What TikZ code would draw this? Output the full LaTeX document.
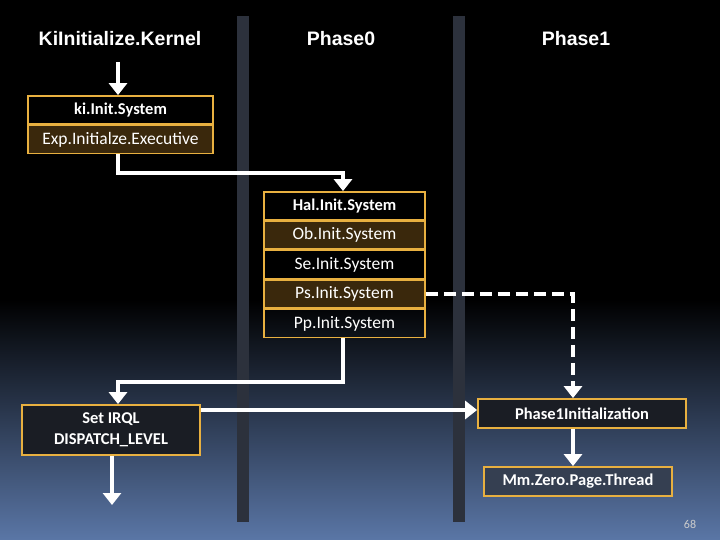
\documentclass[tikz,border=0pt]{standalone}
\usepackage{fontspec}
\setmainfont{Carlito}
\newfontfamily\titlefont{Liberation Sans}
\usetikzlibrary{arrows.meta}
\definecolor{bx}{HTML}{E8B040}
\definecolor{brn}{HTML}{3A280C}
\definecolor{barc}{HTML}{2C313C}
\definecolor{botc}{HTML}{5A76A6}
\begin{document}
\begin{tikzpicture}[x=1pt,y=-1pt,
  ttl/.style={text=white,font=\titlefont\bfseries\fontsize{19.5}{22}\selectfont},
  bxs/.style={draw=bx,line width=1.8pt,text=white,font=\fontsize{17.5}{19}\selectfont,minimum height=28pt,inner sep=0pt},
  bf/.style={font=\bfseries\fontsize{16.5}{19}\selectfont},
  fl/.style={fill=brn},
  arr/.style={draw=white,line width=3.5pt,-{Triangle[width=18pt,length=12pt]}},
  bar/.style={fill=barc}]
\useasboundingbox (0,0) rectangle (720,540);
\fill[black] (0,0) rectangle (720,300);
\shade[top color=black,bottom color=botc] (0,299) rectangle (720,540);
\fill[bar] (237,16) rectangle (249,522);
\fill[bar] (453,16) rectangle (465,522);
\node[ttl] (t1) at (120,39) {KiInitialize.Kernel};
\node[ttl] (t2) at (341,39) {Phase0};
\node[ttl] (t3) at (576,39) {Phase1};
\node[bxs,bf,minimum width=185pt] (ki) at (120.5,110) {ki.Init.System};
\node[bxs,fl,minimum width=185pt] (exp) at (120.5,139.5) {Exp.Initialze.Executive};
\node[bxs,bf,minimum width=161pt] (hal) at (344.5,206) {Hal.Init.System};
\node[bxs,fl,minimum width=161pt] (ob) at (344.5,235) {Ob.Init.System};
\node[bxs,minimum width=161pt] (se) at (344.5,264.5) {Se.Init.System};
\node[bxs,fl,minimum width=161pt] (ps) at (344.5,294) {Ps.Init.System};
\node[bxs,minimum width=161pt] (pp) at (344.5,323.5) {Pp.Init.System};
\node[bxs,bf,fill=barc!60!black,minimum width=178pt,minimum height=50pt,align=center] (irql) at (111,430) {Set IRQL\\[2pt]DISPATCH\_LEVEL};
\node[bxs,bf,fill=barc!60!black,minimum width=208pt,minimum height=29pt] (p1) at (582,413.5) {Phase1Initialization};
\node[bxs,bf,fill=barc!80!botc,minimum width=188pt,minimum height=29pt] (mm) at (578,481.5) {Mm.Zero.Page.Thread};
\node[text=white!80!black,font=\fontsize{12}{13}\selectfont] (pg) at (690,524) {68};
\coordinate (s0) at (118,62);
\coordinate (e0) at (112,505);
\draw[arr] (s0) -- (ki.north -| s0);
\draw[arr] (exp.south -| s0) |- (343,173) -- (hal.north -| 343,0);
\draw[arr] (pp.south -| 343,0) |- (118,382) -- (irql.north -| 118,0);
\draw[arr] (irql.east |- 0,410) -- (p1.west |- 0,410);
\draw[arr,dash pattern=on 12pt off 6pt] (ps.east) -| (p1.north -| 573,0);
\draw[arr] (p1.south -| 573,0) -- (mm.north -| 573,0);
\draw[arr] (irql.south -| e0) -- (e0);
\end{tikzpicture}
\end{document}
